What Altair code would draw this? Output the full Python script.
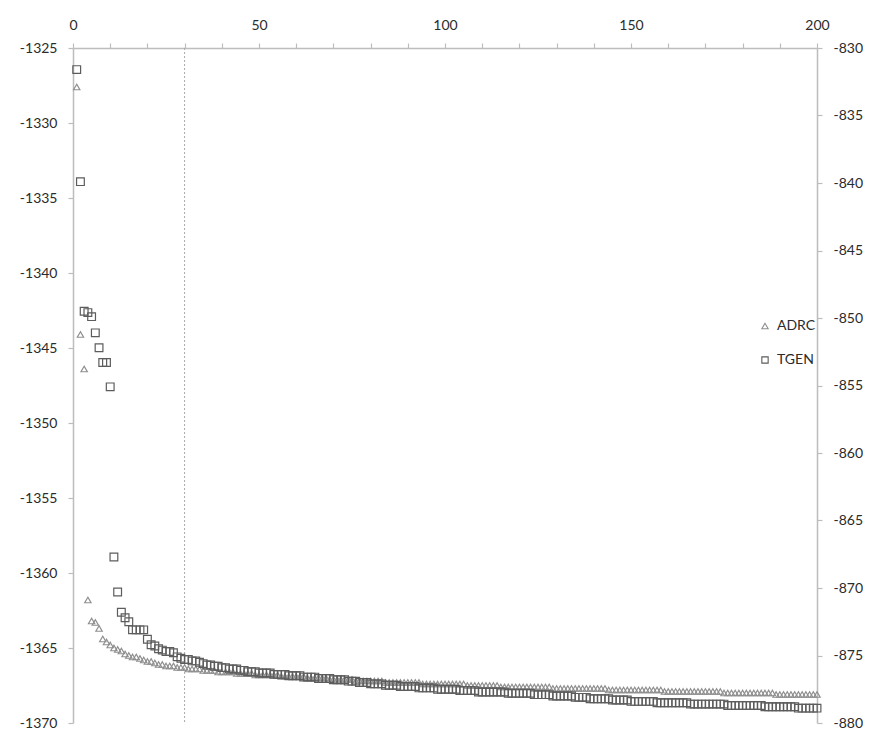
import altair as alt
import pandas as pd

iterations = list(range(1, 201))

adrc = [
    -1327.6, -1344.1, -1346.4, -1361.8, -1363.2, -1363.3, -1363.7, -1364.4, -1364.6, -1364.8,
    -1365.0, -1365.1, -1365.2, -1365.4, -1365.5, -1365.6, -1365.6, -1365.7, -1365.8, -1365.9,
    -1365.9, -1366.0, -1366.1, -1366.1, -1366.2, -1366.2, -1366.2, -1366.3, -1366.3, -1366.3,
    -1366.4, -1366.4, -1366.4, -1366.4, -1366.5, -1366.5, -1366.5, -1366.5, -1366.6, -1366.6,
    -1366.6, -1366.6, -1366.6, -1366.7, -1366.7, -1366.7, -1366.7, -1366.7, -1366.8, -1366.8,
    -1366.8, -1366.8, -1366.8, -1366.8, -1366.8, -1366.9, -1366.9, -1366.9, -1366.9, -1366.9,
    -1366.9, -1366.9, -1367.0, -1367.0, -1367.0, -1367.0, -1367.0, -1367.0, -1367.1, -1367.1,
    -1367.1, -1367.1, -1367.1, -1367.1, -1367.1, -1367.2, -1367.2, -1367.2, -1367.2, -1367.2,
    -1367.2, -1367.2, -1367.2, -1367.3, -1367.3, -1367.3, -1367.3, -1367.3, -1367.3, -1367.3,
    -1367.3, -1367.3, -1367.3, -1367.4, -1367.4, -1367.4, -1367.4, -1367.4, -1367.4, -1367.4,
    -1367.4, -1367.4, -1367.4, -1367.4, -1367.4, -1367.5, -1367.5, -1367.5, -1367.5, -1367.5,
    -1367.5, -1367.5, -1367.5, -1367.5, -1367.6, -1367.6, -1367.6, -1367.6, -1367.6, -1367.6,
    -1367.6, -1367.6, -1367.6, -1367.6, -1367.6, -1367.6, -1367.6, -1367.6, -1367.7, -1367.7,
    -1367.7, -1367.7, -1367.7, -1367.7, -1367.7, -1367.7, -1367.7, -1367.7, -1367.7, -1367.7,
    -1367.7, -1367.7, -1367.7, -1367.8, -1367.8, -1367.8, -1367.8, -1367.8, -1367.8, -1367.8,
    -1367.8, -1367.8, -1367.8, -1367.8, -1367.8, -1367.8, -1367.8, -1367.8, -1367.9, -1367.9,
    -1367.9, -1367.9, -1367.9, -1367.9, -1367.9, -1367.9, -1367.9, -1367.9, -1367.9, -1367.9,
    -1367.9, -1367.9, -1367.9, -1367.9, -1368.0, -1368.0, -1368.0, -1368.0, -1368.0, -1368.0,
    -1368.0, -1368.0, -1368.0, -1368.0, -1368.0, -1368.0, -1368.0, -1368.0, -1368.1, -1368.1,
    -1368.1, -1368.1, -1368.1, -1368.1, -1368.1, -1368.1, -1368.1, -1368.1, -1368.1, -1368.1,
]

tgen = [
    -831.6, -839.9, -849.5, -849.6, -849.9, -851.1, -852.2, -853.3, -853.3, -855.1,
    -867.7, -870.3, -871.8, -872.2, -872.5, -873.1, -873.1, -873.1, -873.1, -873.8,
    -874.2, -874.3, -874.5, -874.6, -874.7, -874.7, -874.8, -875.1, -875.2, -875.3,
    -875.3, -875.4, -875.4, -875.5, -875.6, -875.7, -875.7, -875.8, -875.8, -875.9,
    -875.9, -876.0, -876.0, -876.0, -876.1, -876.1, -876.2, -876.2, -876.2, -876.3,
    -876.3, -876.3, -876.3, -876.4, -876.4, -876.4, -876.4, -876.5, -876.5, -876.5,
    -876.5, -876.6, -876.6, -876.6, -876.6, -876.7, -876.7, -876.7, -876.7, -876.8,
    -876.8, -876.8, -876.8, -876.9, -876.9, -876.9, -877.0, -877.0, -877.0, -877.1,
    -877.1, -877.1, -877.1, -877.2, -877.2, -877.2, -877.2, -877.3, -877.3, -877.3,
    -877.3, -877.3, -877.4, -877.4, -877.4, -877.4, -877.4, -877.5, -877.5, -877.5,
    -877.5, -877.5, -877.5, -877.6, -877.6, -877.6, -877.6, -877.6, -877.7, -877.7,
    -877.7, -877.7, -877.7, -877.7, -877.7, -877.7, -877.8, -877.8, -877.8, -877.8,
    -877.8, -877.8, -877.8, -877.9, -877.9, -877.9, -877.9, -877.9, -878.0, -878.0,
    -878.0, -878.0, -878.0, -878.0, -878.1, -878.1, -878.1, -878.1, -878.2, -878.2,
    -878.2, -878.2, -878.2, -878.2, -878.3, -878.3, -878.3, -878.3, -878.3, -878.4,
    -878.4, -878.4, -878.4, -878.4, -878.4, -878.4, -878.5, -878.5, -878.5, -878.5,
    -878.5, -878.5, -878.5, -878.5, -878.5, -878.6, -878.6, -878.6, -878.6, -878.6,
    -878.6, -878.6, -878.6, -878.6, -878.6, -878.7, -878.7, -878.7, -878.7, -878.7,
    -878.7, -878.7, -878.7, -878.7, -878.7, -878.8, -878.8, -878.8, -878.8, -878.8,
    -878.8, -878.8, -878.8, -878.8, -878.9, -878.9, -878.9, -878.9, -878.9, -878.9,
]

series_names = ["ADRC", "TGEN"]
x_ticks = list(range(0, 201, 10))
left_ticks = list(range(-1370, -1324, 5))
right_ticks = list(range(-880, -829, 5))
cutoff = [30]

df_a = pd.DataFrame({"iter": iterations, "value": adrc, "series": "ADRC"})
df_t = pd.DataFrame({"iter": iterations, "value": tgen, "series": "TGEN"})
df_cut = pd.DataFrame({"iter": cutoff})

FONT = "Lato"
AX_COLOR = "#bdbdbd"
LBL_COLOR = "#2b2b2b"

x_enc = alt.X(
    "iter:Q",
    scale=alt.Scale(domain=[0, 200], nice=False, zero=False),
    axis=alt.Axis(
        orient="top", values=x_ticks, title=None, grid=False, labelFlush=False,
        labelExpr="datum.value % 50 == 0 ? datum.label : ''",
    ),
)

shape_scale = alt.Scale(domain=series_names, range=["triangle-up", "square"])
color_scale = alt.Scale(domain=series_names, range=["#8f8f8f", "#5c5c5c"])

legend = alt.Legend(
    title=None, orient="none", legendX=685, legendY=271,
    labelFont=FONT, labelFontSize=14, labelColor=LBL_COLOR,
    rowPadding=20, symbolSize=40, symbolStrokeWidth=1.1, labelOffset=5,
    padding=0,
)

adrc_layer = alt.Chart(df_a).mark_point(filled=False, size=40, strokeWidth=1.2, opacity=1).encode(
    x=x_enc,
    y=alt.Y(
        "value:Q",
        scale=alt.Scale(domain=[-1370, -1325], nice=False, zero=False),
        axis=alt.Axis(orient="left", values=left_ticks, title=None, grid=False,
                      labelExpr="'-' + abs(datum.value)"),
    ),
    shape=alt.Shape("series:N", scale=shape_scale, legend=legend),
    color=alt.Color("series:N", scale=color_scale, legend=legend),
)

tgen_layer = alt.Chart(df_t).mark_point(filled=False, size=60, strokeWidth=1.2, opacity=1).encode(
    x=x_enc,
    y=alt.Y(
        "value:Q",
        scale=alt.Scale(domain=[-880, -830], nice=False, zero=False),
        axis=alt.Axis(orient="right", values=right_ticks, title=None, grid=False,
                      labelExpr="'-' + abs(datum.value)"),
    ),
    shape=alt.Shape("series:N", scale=shape_scale, legend=legend),
    color=alt.Color("series:N", scale=color_scale, legend=legend),
)

cut_layer = alt.Chart(df_cut).mark_rule(color="#a8a8a8", strokeDash=[2, 2], strokeWidth=1).encode(
    x=x_enc,
)

chart = (
    alt.layer(cut_layer, adrc_layer, tgen_layer)
    .resolve_scale(y="independent")
    .properties(
        width=744, height=675, autosize="none",
        padding={"left": 65, "top": 40, "right": 69, "bottom": 17},
    )
    .configure_view(stroke=None)
    .configure_axis(
        domainColor=AX_COLOR, domainWidth=1.5, tickColor=AX_COLOR, tickWidth=1.2,
        tickSize=5, labelFont=FONT, labelFontSize=14, labelColor=LBL_COLOR,
        labelPadding=11,
    )
)

chart.save("out.html", embed_options={"renderer": "svg", "actions": False})
